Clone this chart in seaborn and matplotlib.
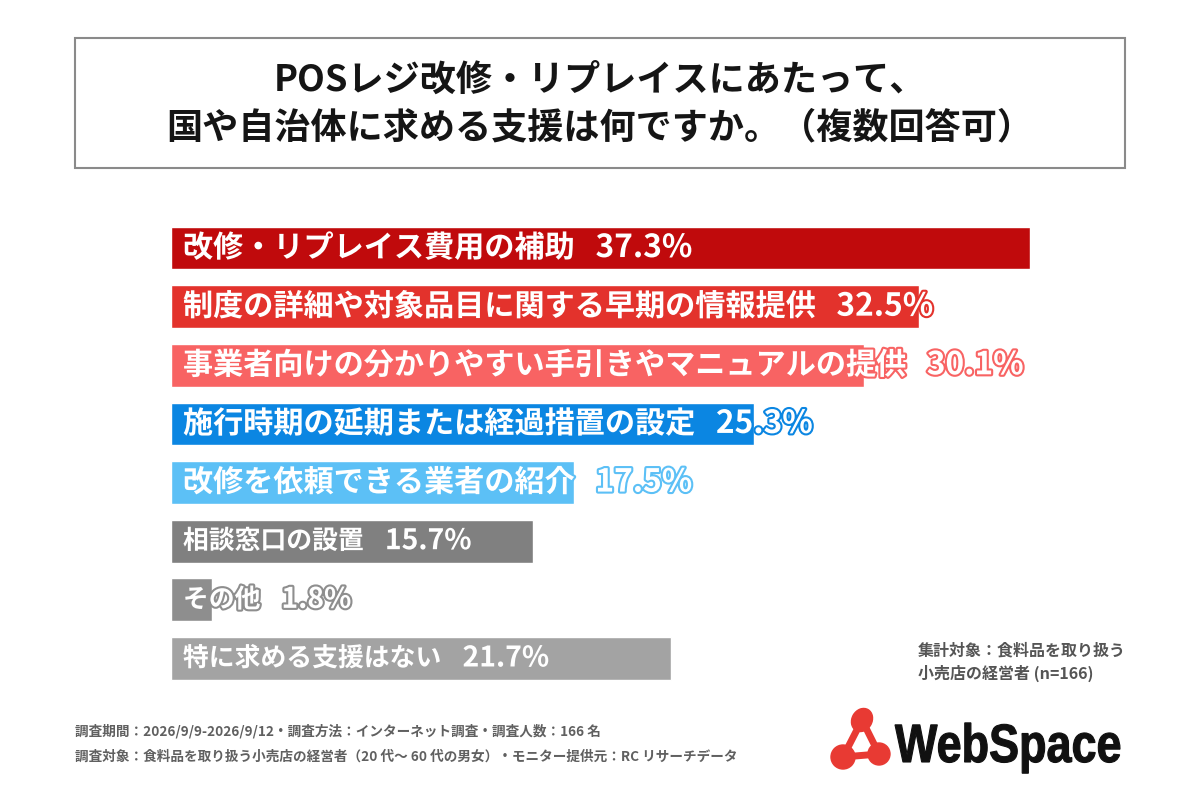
import matplotlib
matplotlib.use("Agg")
import matplotlib.pyplot as plt
import seaborn as sns
import pandas as pd
from matplotlib import patheffects as pe
from matplotlib.patches import Rectangle, Circle, Ellipse, PathPatch
from matplotlib.textpath import TextPath
from matplotlib.font_manager import FontProperties
from matplotlib.transforms import Affine2D

categories = [
    "改修・リプレイス費用の補助",
    "制度の詳細や対象品目に関する早期の情報提供",
    "事業者向けの分かりやすい手引きやマニュアルの提供",
    "施行時期の延期または経過措置の設定",
    "改修を依頼できる業者の紹介",
    "相談窓口の設置",
    "その他",
    "特に求める支援はない",
]
values = [37.3, 32.5, 30.1, 25.3, 17.5, 15.7, 1.8, 21.7]
colors = ["#C00A0C", "#E3322C", "#F86363", "#0B86E2", "#5CC0F6", "#808080", "#8E8E8E", "#A3A3A3"]

title_lines = [
    "POSレジ改修・リプレイスにあたって、",
    "国や自治体に求める支援は何ですか。（複数回答可）",
]
note_lines = ["集計対象：食料品を取り扱う", "小売店の経営者 (n=166)"]
footnotes = [
    "調査期間：2026/9/9-2026/9/12・調査方法：インターネット調査・調査人数：166 名",
    "調査対象：食料品を取り扱う小売店の経営者（20 代～ 60 代の男女）・モニター提供元：RC リサーチデータ",
]
logo_text = "WebSpace"

# style: font sizes (colored bars larger, gray bars smaller)
label_sizes = [21.7, 21.7, 21.7, 21.7, 21.7, 18.6, 18.6, 18.6]
pct_sizes = [22.8, 22.8, 22.8, 22.8, 22.8, 20.4, 20.4, 20.4]

sns.set_theme(style="white")
plt.rcParams['font.family'] = ['Noto Sans CJK JP', 'DejaVu Sans']

fig = plt.figure(figsize=(12, 8), dpi=100)
fig.patch.set_facecolor("white")

# bar axes (pixel layout)
left, right, top, bottom = 171, 1030, 218.7, 687.8
ax = fig.add_axes([left / 1200, 1 - bottom / 800, (right - left) / 1200, (bottom - top) / 800])
df = pd.DataFrame({"category": categories, "value": values})
sns.barplot(data=df, x="value", y="category", hue="category", order=categories,
            hue_order=categories, palette=colors, width=0.73, saturation=1,
            legend=False, ax=ax)
ax.set_xlim(0, max(values))
ax.set_ylim(len(categories) - 0.5, -0.5)
ax.axis("off")

for i, (c, v, col) in enumerate(zip(categories, values, colors)):
    stroke = [pe.withStroke(linewidth=3, foreground=col)]
    t = ax.annotate(c, xy=(0, i), xytext=(8.6, 0), textcoords="offset points",
                    ha="left", va="center", fontsize=label_sizes[i], fontweight="bold",
                    color="white", path_effects=stroke)
    ax.annotate(f"{v:.1f}%", xy=(1, 0.5), xycoords=t, xytext=(15, 0),
                textcoords="offset points", ha="left", va="center",
                fontsize=pct_sizes[i], fontweight="bold", color="white",
                path_effects=stroke)

# overlay axes in pixel coordinates (y up)
ov = fig.add_axes([0, 0, 1, 1])
ov.set_xlim(0, 1200)
ov.set_ylim(0, 800)
ov.axis("off")

ov.add_patch(Rectangle((75, 800 - 168), 1050, 130, fill=False, edgecolor="#8a8a8a", lw=1.5))
ov.text(600, 800 - 80, title_lines[0], ha="center", va="center", fontsize=26,
        fontweight="bold", color="#151515")
ov.text(600, 800 - 128, title_lines[1], ha="center", va="center", fontsize=26,
        fontweight="bold", color="#151515")

for k, line in enumerate(note_lines):
    ov.text(918, 800 - 650 - 23 * k, line, ha="left", va="center", fontsize=11.5,
            fontweight="bold", color="#555555")

for k, line in enumerate(footnotes):
    ov.text(75, 800 - 731 - 26 * k, line, ha="left", va="center", fontsize=9.8,
            fontweight="bold", color="#606060")

# logo
red = "#E83A33"
pts = [(862, 80), (843, 43), (879, 46)]
for a, b in [(0, 1), (0, 2), (1, 2)]:
    ov.plot([pts[a][0], pts[b][0]], [pts[a][1], pts[b][1]], color=red, lw=5, solid_capstyle="round")
ov.add_patch(Ellipse(pts[0], 20, 24, angle=-30, color=red))
ov.add_patch(Circle(pts[1], 12, color=red))
ov.add_patch(Circle(pts[2], 11, color=red))

tp = TextPath((0, 0), logo_text, size=54, prop=FontProperties(family="Liberation Sans", weight="bold"))
ext = tp.get_extents()
sx = 225 / ext.width
tr = Affine2D().translate(-ext.x0, 0).scale(sx, 1).translate(895, 38) + ov.transData
ov.add_patch(PathPatch(tp, transform=tr, facecolor="#111111", edgecolor="#111111", lw=0.8))

fig.savefig("out.png", dpi=100)
